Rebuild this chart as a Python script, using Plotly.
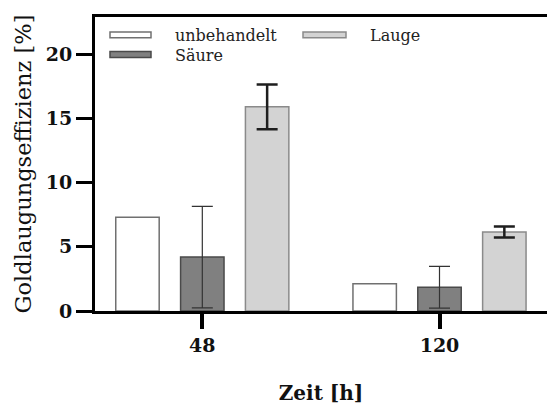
import plotly.graph_objects as go

# ---- data ----
categories = ["48", "120"]
series_names = ["unbehandelt", "Säure", "Lauge"]
unbehandelt = [7.3, 2.13]
saeure = [4.2, 1.85]
saeure_err = [3.95, 1.62]
lauge = [15.9, 6.15]
lauge_err = [1.75, 0.43]
y_ticks = [0, 5, 10, 15, 20]

FONT = "DejaVu Serif"
fills = ["#ffffff", "#808080", "#d3d3d3"]
edges = ["#707070", "#4a4a4a", "#8a8a8a"]

fig = go.Figure()
fig.add_trace(go.Bar(x=categories, y=unbehandelt, name=series_names[0],
                     marker=dict(color=fills[0], line=dict(color=edges[0], width=1.5))))
fig.add_trace(go.Bar(x=categories, y=saeure, name=series_names[1],
                     marker=dict(color=fills[1], line=dict(color=edges[1], width=1.5)),
                     error_y=dict(type="data", array=saeure_err, visible=True,
                                  color="#333333", thickness=1.2, width=10.5)))
fig.add_trace(go.Bar(x=categories, y=lauge, name=series_names[2],
                     marker=dict(color=fills[2], line=dict(color=edges[2], width=1.5)),
                     error_y=dict(type="data", array=lauge_err, visible=True,
                                  color="#1e1e1e", thickness=2.5, width=10.5)))

L, T, B, W_, H_ = 95, 17, 317, 547, 405
pw, ph = W_ - L, B - T


def px(xp):
    return (xp - L) / pw


def py(yp):
    return (B - yp) / ph


# custom legend (swatches + labels)
legend_items = [
    (0, 110, 151, 35.3),
    (1, 110, 151, 55.3),
    (2, 303, 346, 35.3),
]
for idx, x0, x1, yc in legend_items:
    fig.add_shape(type="rect", xref="paper", yref="paper",
                  x0=px(x0), x1=px(x1), y0=py(yc + 3), y1=py(yc - 3),
                  fillcolor=fills[idx], line=dict(color=edges[idx], width=1.5))
    fig.add_annotation(xref="paper", yref="paper", x=px(x1 + 22), y=py(yc + 1),
                       text=series_names[idx], showarrow=False,
                       xanchor="left", yanchor="middle",
                       font=dict(family=FONT, size=16, color="#222222"))

fig.update_layout(
    width=W_, height=H_,
    margin=dict(l=L, r=0, t=T, b=H_ - B),
    paper_bgcolor="white", plot_bgcolor="white",
    barmode="group", bargap=0.18, bargroupgap=0.33,
    showlegend=False,
    font=dict(family=FONT, color="#111111"),
)
fig.update_xaxes(
    type="category", range=[-0.4524, 1.4532],
    showline=True, linewidth=3, linecolor="black", mirror=True,
    ticks="outside", ticklen=15, tickwidth=3.5, tickcolor="black",
    tickfont=dict(family=FONT, size=19, weight="bold", color="#111111"),
    showgrid=False, zeroline=False,
    title=dict(text="Zeit [h]", font=dict(family=FONT, size=20, weight="bold", color="#111111"), standoff=35),
)
fig.update_yaxes(
    range=[0, 22.9], tickvals=y_ticks, ticktext=[str(v) for v in y_ticks],
    showline=True, linewidth=3, linecolor="black", mirror=False,
    ticks="outside", ticklen=16, tickwidth=3, tickcolor="black",
    tickfont=dict(family=FONT, size=19, weight="bold", color="#111111"),
    showgrid=False, zeroline=False,
    title=dict(text="Goldlaugungseffizienz [%]", font=dict(family=FONT, size=22.5, color="#111111"), standoff=8),
)

fig.write_html("out.html")
